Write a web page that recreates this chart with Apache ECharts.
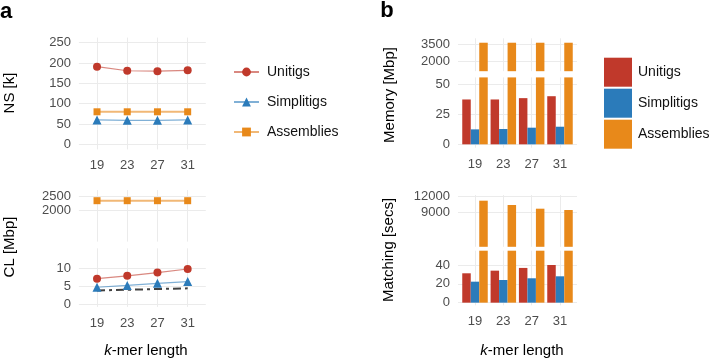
<!DOCTYPE html>
<html>
<head>
<meta charset="utf-8">
<script src="https://cdn.jsdelivr.net/npm/echarts@6/dist/echarts.min.js"></script>
<style>
  html, body { margin: 0; padding: 0; background: #fff; }
  #chart { width: 709px; height: 360px; }
</style>
</head>
<body>
<div id="chart"></div>
<script>
// k-mer lengths (x axis of every panel)
var kmers = [19, 23, 27, 31];

// a: NS [k]
var nsUnitigs = [191, 181, 180, 182];
var nsSimplitigs = [60, 59, 59, 60];
var nsAssemblies = [80, 80, 80, 80];

// a: CL [Mbp]
var clUnitigs = [7.1, 7.9, 8.8, 9.8];
var clSimplitigs = [4.7, 5.2, 5.8, 6.3];
var clAssemblies = [2340, 2340, 2340, 2340];
var clBound = [3.8, 4.0, 4.2, 4.4];

// b: Memory [Mbp]
var memUnitigs = [37.2, 37.2, 38.3, 39.9];
var memSimplitigs = [12.4, 12.7, 13.8, 14.6];
var memAssemblies = [3610, 3610, 3610, 3610];

// b: Matching [secs]
var matchUnitigs = [31.2, 34.0, 36.9, 40.0];
var matchSimplitigs = [22.3, 24.1, 25.9, 28.0];
var matchAssemblies = [11250, 10440, 9750, 9500];

// tick labels
var nsTicks = [0, 50, 100, 150, 200, 250];
var clTicksHi = [2000, 2500];
var clTicksLo = [0, 5, 10];
var memTicksHi = [2000, 3500];
var memTicksLo = [0, 25, 50];
var matchTicksHi = [9000, 12000];
var matchTicksLo = [0, 20, 40];

var RED = '#c0392b', BLUE = '#2b7bba', ORANGE = '#e8891a';
var FONT = '"Liberation Sans", Arial, sans-serif';

function pts(arr) {
    return kmers.map(function (k, i) { return [k, arr[i]]; });
}

var grids = [
    {left: 78.9, width: 126.9, top: 37.6, height: 111.8},   // NS
    {left: 78.9, width: 126.9, top: 190.1, height: 51.5},   // CL upper
    {left: 78.9, width: 126.9, top: 248.3, height: 58.6},   // CL lower
    {left: 458, width: 119, top: 38.3, height: 32.9},       // Memory upper
    {left: 458, width: 119, top: 77.4, height: 70.3},       // Memory lower
    {left: 458, width: 119, top: 195.1, height: 51.7},      // Matching upper
    {left: 458, width: 119, top: 250.7, height: 54.6}       // Matching lower
];

var gridLine = {show: true, lineStyle: {color: '#ebebeb', width: 1}};

function xAx(i, showLabel) {
    return {
        type: 'value', gridIndex: i, min: 16.6, max: 33.4,
        axisLine: {show: false},
        axisTick: {show: false, customValues: kmers},
        axisLabel: {show: showLabel, customValues: kmers, color: '#4d4d4d', fontSize: 13, fontFamily: FONT, margin: 10},
        splitLine: gridLine
    };
}
function yAx(i, min, max, ticks) {
    return {
        type: 'value', gridIndex: i, min: min, max: max,
        axisLine: {show: false},
        axisTick: {show: false, customValues: ticks},
        axisLabel: {customValues: ticks, color: '#4d4d4d', fontSize: 13, fontFamily: FONT, margin: 8,
            formatter: function (v) { return String(v); }},
        splitLine: gridLine
    };
}

function lineS(name, g, arr, color, symbol, size, width) {
    return {
        name: name, type: 'line', xAxisIndex: g, yAxisIndex: g, data: pts(arr),
        symbol: symbol, symbolSize: size, showSymbol: true,
        itemStyle: {color: color},
        lineStyle: {color: color, width: width, opacity: 0.6},
        z: 3
    };
}
function barS(name, g, arr, color) {
    return {
        name: name, type: 'bar', xAxisIndex: g, yAxisIndex: g, data: pts(arr),
        barGap: 0, barCategoryGap: '10%',
        itemStyle: {color: color}
    };
}

var myChart = echarts.init(document.getElementById('chart'));

var option = {
    animation: false,
    grid: grids,
    xAxis: [xAx(0, true), xAx(1, false), xAx(2, true), xAx(3, false), xAx(4, true), xAx(5, false), xAx(6, true)],
    yAxis: [
        yAx(0, -12.5, 262.5, nsTicks),
        yAx(1, 950, 2700, clTicksHi),
        yAx(2, -0.8, 15.6, clTicksLo),
        yAx(3, 1100, 4000, memTicksHi),
        yAx(4, -2.8, 55.5, memTicksLo),
        yAx(5, 2600, 12300, matchTicksHi),
        yAx(6, -2.8, 55.2, matchTicksLo)
    ],
    legend: [
        {
            data: ['Unitigs', 'Simplitigs', 'Assemblies'],
            orient: 'vertical', left: 228, top: 60,
            itemWidth: 25, itemHeight: 11, itemGap: 16,
            textStyle: {fontSize: 14, fontFamily: FONT, color: '#111', lineHeight: 14, padding: [0, 0, 0, 3]}
        },
        {
            data: ['Unitigs ', 'Simplitigs ', 'Assemblies '],
            orient: 'vertical', left: 599, top: 52.7, icon: 'rect',
            itemWidth: 28, itemHeight: 29, itemGap: 2,
            formatter: function (n) { return n.trim(); },
            textStyle: {fontSize: 14, fontFamily: FONT, color: '#111', padding: [0, 0, 0, 1]}
        }
    ],
    series: [
        lineS('Unitigs', 0, nsUnitigs, RED, 'circle', 8, 1.2),
        lineS('Simplitigs', 0, nsSimplitigs, BLUE, 'triangle', 9, 1.2),
        lineS('Assemblies', 0, nsAssemblies, ORANGE, 'rect', 7, 2),
        lineS('Assemblies', 1, clAssemblies, ORANGE, 'rect', 7, 2),
        lineS('Unitigs', 2, clUnitigs, RED, 'circle', 8, 1.2),
        lineS('Simplitigs', 2, clSimplitigs, BLUE, 'triangle', 9, 1.2),
        {
            name: 'bound', type: 'line', xAxisIndex: 2, yAxisIndex: 2, data: pts(clBound),
            symbol: 'none', lineStyle: {color: '#404040', width: 2, type: [8, 4, 3, 4]}, z: 2
        },
        barS('Unitigs ', 3, memUnitigs, RED),
        barS('Simplitigs ', 3, memSimplitigs, BLUE),
        barS('Assemblies ', 3, memAssemblies, ORANGE),
        barS('Unitigs ', 4, memUnitigs, RED),
        barS('Simplitigs ', 4, memSimplitigs, BLUE),
        barS('Assemblies ', 4, memAssemblies, ORANGE),
        barS('Unitigs ', 5, matchUnitigs, RED),
        barS('Simplitigs ', 5, matchSimplitigs, BLUE),
        barS('Assemblies ', 5, matchAssemblies, ORANGE),
        barS('Unitigs ', 6, matchUnitigs, RED),
        barS('Simplitigs ', 6, matchSimplitigs, BLUE),
        barS('Assemblies ', 6, matchAssemblies, ORANGE)
    ],
    graphic: [
        {type: 'text', x: 6, y: 12, style: {text: 'a', fontSize: 22, fontWeight: 'bold', fontFamily: FONT, fill: '#000', align: 'center', verticalAlign: 'middle'}},
        {type: 'text', x: 387, y: 11, style: {text: 'b', fontSize: 22, fontWeight: 'bold', fontFamily: FONT, fill: '#000', align: 'center', verticalAlign: 'middle'}},
        {type: 'text', x: 9.5, y: 93, rotation: Math.PI / 2, style: {text: 'NS [k]', fontSize: 15, fontFamily: FONT, fill: '#000', align: 'center', verticalAlign: 'middle'}},
        {type: 'text', x: 9.5, y: 247, rotation: Math.PI / 2, style: {text: 'CL [Mbp]', fontSize: 15, fontFamily: FONT, fill: '#000', align: 'center', verticalAlign: 'middle'}},
        {type: 'text', x: 390, y: 95, rotation: Math.PI / 2, style: {text: 'Memory [Mbp]', fontSize: 15, fontFamily: FONT, fill: '#000', align: 'center', verticalAlign: 'middle'}},
        {type: 'text', x: 389, y: 250, rotation: Math.PI / 2, style: {text: 'Matching [secs]', fontSize: 15, fontFamily: FONT, fill: '#000', align: 'center', verticalAlign: 'middle'}},
        {type: 'text', x: 146, y: 351, style: {text: '{i|k}-mer length', fontSize: 15, fontFamily: FONT, fill: '#000', align: 'center', verticalAlign: 'middle',
            rich: {i: {fontStyle: 'italic', fontSize: 15, fontFamily: FONT, fill: '#000'}}}},
        {type: 'text', x: 522, y: 351, style: {text: '{i|k}-mer length', fontSize: 15, fontFamily: FONT, fill: '#000', align: 'center', verticalAlign: 'middle',
            rich: {i: {fontStyle: 'italic', fontSize: 15, fontFamily: FONT, fill: '#000'}}}}
    ]
};

myChart.setOption(option);
</script>
</body>
</html>
